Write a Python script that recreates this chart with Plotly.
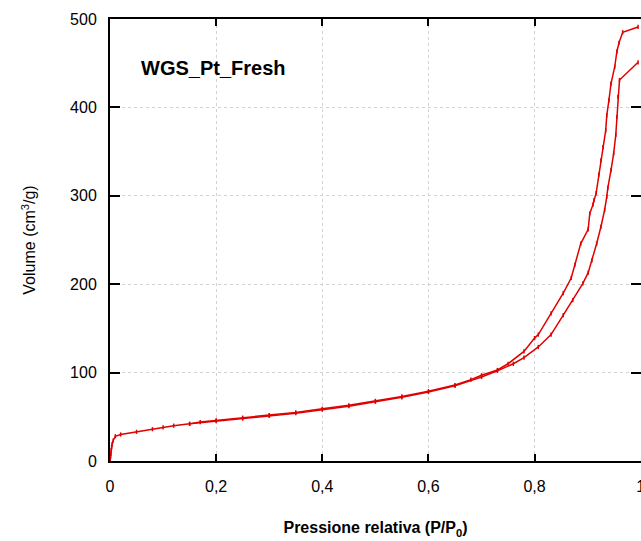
import plotly.graph_objects as go

# N2 physisorption isotherm of WGS_Pt_Fresh: relative pressure vs adsorbed volume
ads_p = [0.0005, 0.001, 0.0015, 0.002, 0.003, 0.004, 0.006, 0.01, 0.02, 0.05,
         0.08, 0.10, 0.12, 0.15, 0.20, 0.25, 0.30, 0.35, 0.40, 0.45, 0.50,
         0.55, 0.60, 0.65, 0.70, 0.73, 0.76, 0.78, 0.807, 0.831, 0.854,
         0.872, 0.891, 0.901, 0.908, 0.917, 0.925, 0.932, 0.936, 0.938,
         0.944, 0.949, 0.953, 0.955, 0.957, 0.960, 0.995]
ads_v = [2, 5, 8, 12, 16, 19, 23, 28, 30, 33,
         36, 38, 40, 42, 45, 48, 51, 54, 58, 62, 67,
         72, 78, 85, 95, 102, 110, 117, 129, 143, 165,
         182, 201, 213, 227, 246, 265, 284, 299, 309,
         329, 348, 369, 389, 412, 431, 451]

des_p = [0.995, 0.966, 0.959, 0.955, 0.951, 0.944, 0.940, 0.936, 0.934,
         0.929, 0.925, 0.921, 0.916, 0.912, 0.910, 0.904, 0.901, 0.887,
         0.876, 0.869, 0.854, 0.831, 0.807, 0.80, 0.78, 0.75, 0.73, 0.70,
         0.68, 0.65, 0.60, 0.55, 0.50, 0.45, 0.40, 0.35, 0.30, 0.25, 0.20,
         0.17, 0.15]
des_v = [491, 485, 473, 463, 446, 427, 408, 391, 374,
         355, 340, 324, 303, 295, 290, 280, 262, 246,
         222, 207, 190, 167, 143, 139, 124, 110, 103, 97,
         92, 86, 79, 73, 68, 63, 59, 55, 52, 49, 46,
         44, 42]

x_ticks = [0, 0.2, 0.4, 0.6, 0.8, 1]
x_labels = ["0", "0,2", "0,4", "0,6", "0,8", "1"]
y_ticks = [0, 100, 200, 300, 400, 500]

RED = "rgb(225,0,0)"
FONT = "Liberation Sans, Arial, sans-serif"

fig = go.Figure()
for px, vv, name in [(ads_p, ads_v, "Adsorbimento"), (des_p, des_v, "Desorbimento")]:
    fig.add_trace(go.Scatter(
        x=px, y=vv, mode="lines+markers", name=name,
        line=dict(color=RED, width=1.5),
        marker=dict(color=RED, size=3, symbol="line-ns-open",
                    line=dict(color=RED, width=1.5)),
    ))

fig.add_annotation(
    x=0.055, y=0.889, xref="paper", yref="paper",
    text="<b>WGS_Pt_Fresh</b>", showarrow=False,
    xanchor="left", yanchor="middle",
    font=dict(family=FONT, size=20, color="black"),
)

axis_common = dict(
    showline=True, linecolor="black", linewidth=2,
    mirror="ticks", ticks="inside", tickcolor="black", tickwidth=2,
    showgrid=True, gridcolor="rgb(210,210,210)", griddash="dot", gridwidth=1,
    zeroline=False, ticklabeloverflow="allow", automargin=False,
    tickfont=dict(family=FONT, size=16, color="black"),
)

fig.update_layout(
    width=641, height=541,
    margin=dict(l=110, r=0, t=19, b=80, autoexpand=False),
    paper_bgcolor="white", plot_bgcolor="white",
    showlegend=False,
    separators=",.",
    xaxis=dict(
        range=[0, 1.0005], tickvals=x_ticks, ticktext=x_labels, ticklen=7,
        ticklabelstandoff=10,
        title=dict(text="<b>Pressione relativa (P/P<sub>0</sub>)</b>",
                   font=dict(family=FONT, size=16, color="black"), standoff=28),
        **axis_common,
    ),
    yaxis=dict(
        range=[0, 500], tickvals=y_ticks, ticklen=10,
        ticklabelstandoff=8,
        title=dict(text="Volume (cm<sup>3</sup>/g)",
                   font=dict(family=FONT, size=16, color="black"), standoff=30),
        **axis_common,
    ),
)

fig.write_html("out.html")
